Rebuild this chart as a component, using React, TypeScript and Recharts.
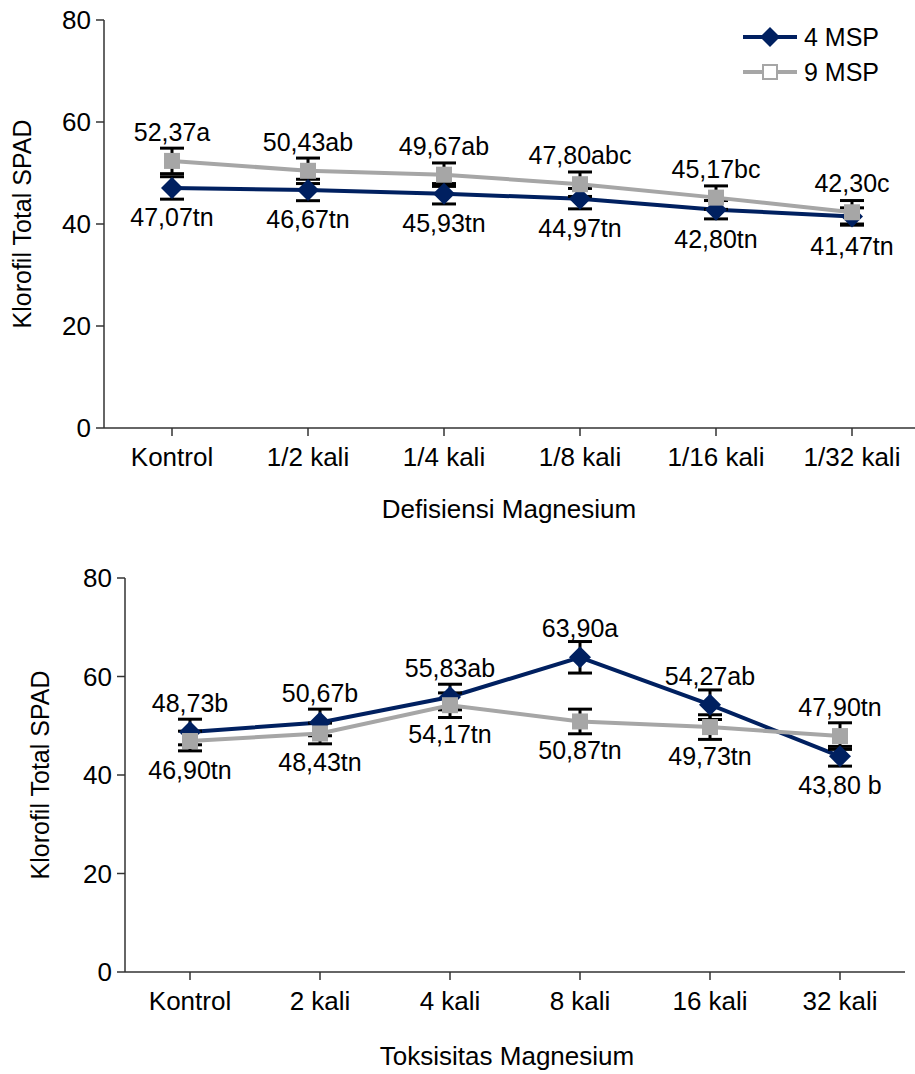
import { LineChart, Line, XAxis, YAxis, ErrorBar, LabelList, Legend } from "recharts";

const defCats = ["Kontrol", "1/2 kali", "1/4 kali", "1/8 kali", "1/16 kali", "1/32 kali"];
const defMsp4 = [47.07, 46.67, 45.93, 44.97, 42.8, 41.47];
const defMsp9 = [52.37, 50.43, 49.67, 47.8, 45.17, 42.3];
const defErr4 = [2.2, 2.1, 2.0, 2.0, 1.8, 1.7];
const defErr9 = [2.5, 2.5, 2.3, 2.4, 2.3, 2.3];
const defLab4 = ["47,07tn", "46,67tn", "45,93tn", "44,97tn", "42,80tn", "41,47tn"];
const defLab9 = ["52,37a", "50,43ab", "49,67ab", "47,80abc", "45,17bc", "42,30c"];
const defPos4 = ["down", "down", "down", "down", "down", "down"];
const defPos9 = ["up", "up", "up", "up", "up", "up"];

const tokCats = ["Kontrol", "2 kali", "4 kali", "8 kali", "16 kali", "32 kali"];
const tokMsp4 = [48.73, 50.67, 55.83, 63.9, 54.27, 43.8];
const tokMsp9 = [46.9, 48.43, 54.17, 50.87, 49.73, 47.9];
const tokErr4 = [2.6, 2.7, 2.6, 3.2, 3.0, 2.0];
const tokErr9 = [2.0, 2.1, 2.5, 2.5, 2.5, 2.7];
const tokLab4 = ["48,73b", "50,67b", "55,83ab", "63,90a", "54,27ab", "43,80 b"];
const tokLab9 = ["46,90tn", "48,43tn", "54,17tn", "50,87tn", "49,73tn", "47,90tn"];
const tokPos4 = ["up", "up", "up", "up", "up", "down"];
const tokPos9 = ["down", "down", "down", "down", "down", "up"];

const yTicks = [0, 20, 40, 60, 80];

const NAVY = "#002060";
const GRAY = "#a6a6a6";
const AXIS = "#333";
const FONT = "'Liberation Sans', Arial, sans-serif";

const build = (cats: string[], a: number[], b: number[], ea: number[], eb: number[], la: string[], lb: string[]) =>
  cats.map((name, i) => ({ name, m4: a[i], m9: b[i], e4: ea[i], e9: eb[i], l4: la[i], l9: lb[i] }));

const defData = build(defCats, defMsp4, defMsp9, defErr4, defErr9, defLab4, defLab9);
const tokData = build(tokCats, tokMsp4, tokMsp9, tokErr4, tokErr9, tokLab4, tokLab9);

const Diamond = (p: any) => {
  const { cx, cy } = p;
  if (cx == null || cy == null) return <g key={p.index} />;
  return <path key={p.index} d={`M${cx},${cy - 11}L${cx + 11},${cy}L${cx},${cy + 11}L${cx - 11},${cy}Z`} fill={NAVY} />;
};

const Square = (p: any) => {
  const { cx, cy } = p;
  if (cx == null || cy == null) return <g key={p.index} />;
  return <rect key={p.index} x={cx - 8} y={cy - 8} width={16} height={16} fill={GRAY} />;
};

const makeLabel = (texts: string[], places: string[]) => (p: any) => {
  const { x, y, value } = p;
  const up = places[texts.indexOf(value)] === "up";
  return (
    <text x={x} y={up ? y - 29 : y + 29} textAnchor="middle" dominantBaseline="central" fontSize={25} fontFamily={FONT} fill="#000">
      {value}
    </text>
  );
};

const LegendBox = () => (
  <div style={{ fontFamily: FONT, fontSize: 25, color: "#000", lineHeight: "35px" }}>
    <div style={{ display: "flex", alignItems: "center" }}>
      <svg width={60} height={35}>
        <line x1={3} y1={17} x2={57} y2={17} stroke={NAVY} strokeWidth={4} />
        <path d="M30,7L40,17L30,27L20,17Z" fill={NAVY} />
      </svg>
      <span style={{ marginLeft: 4 }}>4 MSP</span>
    </div>
    <div style={{ display: "flex", alignItems: "center" }}>
      <svg width={60} height={35}>
        <line x1={3} y1={17} x2={57} y2={17} stroke={GRAY} strokeWidth={4} />
        <rect x={23} y={10} width={14} height={14} fill="#fff" stroke={GRAY} strokeWidth={2} />
      </svg>
      <span style={{ marginLeft: 4 }}>9 MSP</span>
    </div>
  </div>
);

type PanelProps = {
  data: any[];
  width: number;
  height: number;
  top: number;
  right: number;
  xHeight: number;
  yWidth: number;
  pad: number;
  title: string;
  titleOffset: number;
  titleDx: number;
  yLabelX: number;
  lab4: string[];
  lab9: string[];
  pos4: string[];
  pos9: string[];
  legend?: boolean;
};

function Panel(props: PanelProps) {
  const { data, width, height, top, right, xHeight, yWidth, pad, title, titleOffset, titleDx, yLabelX, lab4, lab9, pos4, pos9, legend } = props;
  const plotMid = top + (height - top - xHeight) / 2;
  return (
    <LineChart width={width} height={height} data={data} margin={{ top, right, left: 0, bottom: 0 }}>
      <XAxis
        dataKey="name"
        padding={{ left: pad, right: pad }}
        stroke={AXIS}
        strokeWidth={1.5}
        tickSize={8}
        tickMargin={12}
        tick={{ fontSize: 26, fill: "#000", fontFamily: FONT }}
        height={xHeight}
        label={{ value: title, position: "insideBottom", offset: titleOffset, dx: titleDx, fontSize: 26, fill: "#000", fontFamily: FONT }}
      />
      <YAxis
        domain={[0, 80]}
        ticks={yTicks}
        width={yWidth}
        stroke={AXIS}
        strokeWidth={1.5}
        tickSize={8}
        tickMargin={5}
        tick={{ fontSize: 26, fill: "#000", fontFamily: FONT }}
        label={{
          content: () => (
            <text
              x={yLabelX}
              y={plotMid}
              transform={`rotate(-90, ${yLabelX}, ${plotMid})`}
              textAnchor="middle"
              dominantBaseline="central"
              fontSize={25}
              fontFamily={FONT}
              fill="#000"
            >
              Klorofil Total SPAD
            </text>
          ),
        }}
      />
      {legend && (
        <Legend
          layout="horizontal"
          verticalAlign="middle"
          align="center"
          content={() => <LegendBox />}
          wrapperStyle={{ top: 20, left: 740, width: 175, height: 72 }}
        />
      )}
      <Line dataKey="m4" stroke={NAVY} strokeWidth={4} dot={Diamond} activeDot={false} isAnimationActive={false}>
        <ErrorBar dataKey="e4" width={12} stroke="#000" strokeWidth={3} />
        <LabelList dataKey="l4" content={makeLabel(lab4, pos4)} />
      </Line>
      <Line dataKey="m9" stroke={GRAY} strokeWidth={4} dot={Square} activeDot={false} isAnimationActive={false}>
        <ErrorBar dataKey="e9" width={12} stroke="#000" strokeWidth={3} />
        <LabelList dataKey="l9" content={makeLabel(lab9, pos9)} />
      </Line>
    </LineChart>
  );
}

export default function App() {
  return (
    <div style={{ position: "absolute", left: 0, top: 0, width: 915, height: 1074, overflow: "hidden", background: "#fff" }}>
      <div style={{ position: "absolute", left: 0, top: 0 }}>
        <Panel
          data={defData}
          width={925}
          height={540}
          top={20}
          right={5}
          xHeight={112}
          yWidth={104}
          pad={68}
          title="Defisiensi Magnesium"
          titleOffset={22}
          titleDx={-3}
          yLabelX={22}
          lab4={defLab4}
          lab9={defLab9}
          pos4={defPos4}
          pos9={defPos9}
          legend
        />
      </div>
      <div style={{ position: "absolute", left: 0, top: 540 }}>
        <Panel
          data={tokData}
          width={915}
          height={534}
          top={38}
          right={10}
          xHeight={102}
          yWidth={125}
          pad={65}
          title="Toksisitas Magnesium"
          titleOffset={9}
          titleDx={-8}
          yLabelX={40}
          lab4={tokLab4}
          lab9={tokLab9}
          pos4={tokPos4}
          pos9={tokPos9}
        />
      </div>
    </div>
  );
}
